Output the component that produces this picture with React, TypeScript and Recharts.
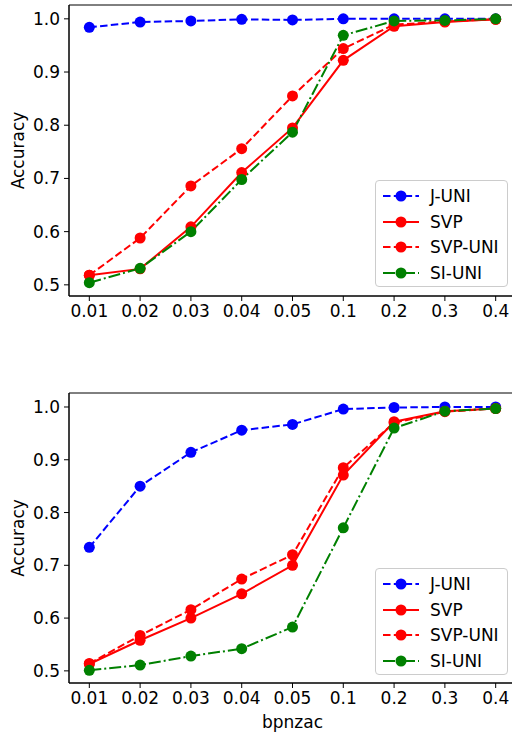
import React from 'react';
import { LineChart, Line, XAxis, YAxis, ReferenceArea, Label } from 'recharts';

const categories = ['0.01', '0.02', '0.03', '0.04', '0.05', '0.1', '0.2', '0.3', '0.4'];
const yTicks = [0.5, 0.6, 0.7, 0.8, 0.9, 1.0];

// top panel
const jUniTop = [0.984, 0.994, 0.996, 0.999, 0.998, 1.0, 1.0, 1.0, 1.0];
const svpTop = [0.518, 0.53, 0.609, 0.711, 0.795, 0.922, 0.986, 0.994, 0.999];
const svpUniTop = [0.518, 0.588, 0.686, 0.756, 0.855, 0.944, 0.989, 0.995, 0.999];
const siUniTop = [0.504, 0.531, 0.6, 0.698, 0.787, 0.969, 0.996, 0.997, 1.0];

// bottom panel
const jUniBottom = [0.734, 0.85, 0.914, 0.956, 0.967, 0.996, 0.999, 1.0, 1.0];
const svpBottom = [0.513, 0.558, 0.6, 0.646, 0.7, 0.871, 0.972, 0.992, 0.997];
const svpUniBottom = [0.514, 0.567, 0.616, 0.674, 0.72, 0.885, 0.97, 0.991, 0.997];
const siUniBottom = [0.501, 0.511, 0.528, 0.542, 0.583, 0.771, 0.96, 0.992, 0.997];

const seriesNames = ['J-UNI', 'SVP', 'SVP-UNI', 'SI-UNI'];
const seriesKeys = ['jUni', 'svp', 'svpUni', 'siUni'];
const seriesColors = ['#0000ff', '#ff0000', '#ff0000', '#008000'];
const seriesDash = ['7.5 3.3', undefined, '7.5 3.3', '12 3 2 3'];

const FONT = 'DejaVu Sans, sans-serif';
const FS = 17;

const makeData = (a: number[], b: number[], c: number[], d: number[]) =>
  categories.map((label, i) => ({ idx: i, label, jUni: a[i], svp: b[i], svpUni: c[i], siUni: d[i] }));

const LegendBox = ({ top }: { top: number }) => (
  <div
    style={{
      position: 'absolute',
      left: 375,
      top,
      width: 131,
      height: 103,
      border: '1px solid #cccccc',
      borderRadius: 4,
      background: 'rgba(255,255,255,0.8)',
      fontFamily: FONT,
      fontSize: FS,
      color: '#000',
      paddingTop: 2,
      boxSizing: 'content-box',
    }}
  >
    {seriesNames.map((name, i) => (
      <div key={name} style={{ display: 'flex', alignItems: 'center', height: 25.7 }}>
        <svg width={48} height={16} style={{ marginLeft: 6, flexShrink: 0 }}>
          <line x1={1} y1={8} x2={37} y2={8} stroke={seriesColors[i]} strokeWidth={2} strokeDasharray={seriesDash[i]} />
          <circle cx={19} cy={8} r={5.5} fill={seriesColors[i]} />
        </svg>
        <span>{name}</span>
      </div>
    ))}
  </div>
);

type PanelProps = {
  data: any[];
  height: number;
  marginTop: number;
  xAxisHeight: number;
  yMin: number;
  yMax: number;
  xLabel?: string;
};

const Panel = ({ data, height, marginTop, xAxisHeight, yMin, yMax, xLabel }: PanelProps) => (
  <LineChart width={520} height={height} data={data} margin={{ top: marginTop, right: 4, bottom: 0, left: 0 }}>
    <XAxis
      dataKey="idx"
      type="number"
      domain={[-0.4, 8.4]}
      ticks={categories.map((_, i) => i)}
      tickFormatter={(v: number) => categories[v]}
      allowDataOverflow
      height={xAxisHeight}
      tickSize={5}
      tickMargin={4}
      stroke="#000"
      tick={{ fill: '#000', fontSize: FS, fontFamily: FONT }}
    >
      {xLabel ? (
        <Label
          content={(props: any) => {
            const vb = props.viewBox;
            return (
              <text x={vb.x + vb.width / 2} y={vb.y + 39} textAnchor="middle" dominantBaseline="central" fontSize={FS} fontFamily={FONT} fill="#000">
                {xLabel}
              </text>
            );
          }}
        />
      ) : null}
    </XAxis>
    <YAxis
      type="number"
      domain={[yMin, yMax]}
      ticks={yTicks}
      allowDataOverflow
      width={69}
      tickSize={5}
      tickMargin={4}
      stroke="#000"
      tickFormatter={(v: number) => v.toFixed(1)}
      tick={{ fill: '#000', fontSize: FS, fontFamily: FONT }}
    >
      <Label
        content={(props: any) => {
          const vb = props.viewBox;
          const cy = vb.y + vb.height / 2;
          return (
            <text x={18} y={cy} transform={`rotate(-90, 18, ${cy})`} textAnchor="middle" dominantBaseline="central" fontSize={FS} fontFamily={FONT} fill="#000">
              Accuracy
            </text>
          );
        }}
      />
    </YAxis>
    <ReferenceArea x1={-0.4} x2={8.4} y1={yMin} y2={yMax} fill="none" stroke="#000" strokeWidth={1} />
    {seriesKeys.map((key, i) => (
      <Line
        key={key}
        dataKey={key}
        name={seriesNames[i]}
        stroke={seriesColors[i]}
        strokeWidth={2}
        strokeDasharray={seriesDash[i]}
        dot={{ r: 5.5, fill: seriesColors[i], stroke: 'none', strokeDasharray: 'none' }}
        activeDot={false}
        isAnimationActive={false}
      />
    ))}
  </LineChart>
);

const topData = makeData(jUniTop, svpTop, svpUniTop, siUniTop);
const bottomData = makeData(jUniBottom, svpBottom, svpUniBottom, siUniBottom);

export default function App() {
  return (
    <div style={{ position: 'absolute', left: 0, top: 0, width: 512, height: 732, overflow: 'hidden', background: '#fff' }}>
      <div style={{ position: 'absolute', left: 0, top: 0 }}>
        <Panel data={topData} height={330} marginTop={5} xAxisHeight={34} yMin={0.479} yMax={1.026} />
      </div>
      <div style={{ position: 'absolute', left: 0, top: 330 }}>
        <Panel data={bottomData} height={402} marginTop={63} xAxisHeight={49} yMin={0.477} yMax={1.0265} xLabel="bpnzac" />
      </div>
      <LegendBox top={180} />
      <LegendBox top={568} />
    </div>
  );
}
